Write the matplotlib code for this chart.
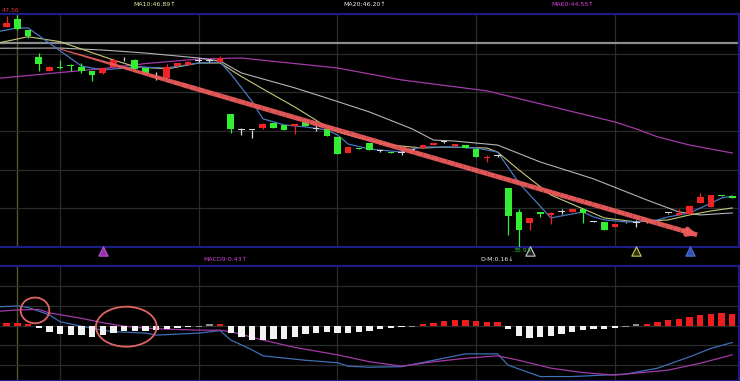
# -*- coding: utf-8 -*-
import numpy as np
import matplotlib
matplotlib.use('Agg')
import matplotlib.pyplot as plt
from matplotlib.patches import Ellipse
from matplotlib.collections import LineCollection

plt.rcParams['font.family'] = ['DejaVu Sans']

# ==================== 1. K线数据================
opens = [46.97, 47.36, 46.81, 45.47, 44.75, 44.95, 45.01, 44.97, 44.76, 44.63,
         44.93, 45.34, 45.30, 44.90, 44.58, 44.38, 45.00, 45.03, 45.27, 45.27,
         45.22, 42.59, 41.79, 41.79, 41.89, 42.14, 42.04, 41.99, 42.19, 41.84,
         41.84, 41.44, 40.63, 40.88, 41.13, 40.73, 40.68, 40.63, 40.78, 40.88,
         41.03, 41.18, 40.98, 41.03, 40.83, 40.36, 40.48, 38.88, 37.69, 37.13,
         37.69, 37.51, 37.69, 37.67, 37.81, 37.18, 37.18, 36.90, 37.15, 37.13,
         37.17, 37.20, 37.61, 37.51, 37.57, 38.11, 37.91, 38.52, 38.47]
highs = [47.51, 47.56, 46.81, 45.67, 45.00, 45.30, 45.10, 45.14, 44.76, 44.92,
         45.39, 45.44, 45.37, 44.90, 44.70, 45.10, 45.16, 45.24, 45.40, 45.36,
         45.50, 42.59, 41.89, 41.79, 42.12, 42.16, 42.04, 42.11, 42.29, 42.04,
         41.86, 41.44, 40.93, 40.88, 41.15, 40.78, 40.68, 40.78, 40.83, 41.05,
         41.15, 41.22, 41.10, 41.05, 40.83, 40.53, 40.53, 38.88, 37.82, 37.37,
         37.69, 37.66, 37.82, 37.83, 37.81, 37.20, 37.18, 37.05, 37.18, 37.27,
         37.20, 37.23, 37.63, 37.82, 38.01, 38.64, 38.54, 38.52, 38.47]
lows = [46.95, 46.81, 46.41, 44.75, 44.75, 44.86, 44.75, 44.63, 44.26, 44.62,
        44.93, 45.24, 44.83, 44.63, 44.30, 44.38, 44.99, 45.03, 45.20, 45.20,
        45.22, 41.64, 41.54, 41.39, 41.86, 41.89, 41.77, 41.59, 41.99, 41.74,
        41.49, 40.58, 40.63, 40.83, 40.78, 40.68, 40.63, 40.53, 40.73, 40.86,
        41.03, 41.13, 40.96, 40.88, 40.43, 40.18, 40.43, 36.52, 35.93, 36.77,
        37.42, 37.07, 37.57, 37.67, 37.10, 37.16, 36.77, 36.90, 37.12, 36.92,
        37.14, 37.17, 37.59, 37.51, 37.55, 38.11, 37.91, 38.47, 38.39]
closes = [47.17, 46.84, 46.51, 45.10, 44.97, 44.92, 44.99, 44.75, 44.53, 44.91,
          45.30, 45.34, 44.83, 44.63, 44.58, 44.93, 45.14, 45.22, 45.27, 45.27,
          45.39, 41.84, 41.79, 41.79, 42.09, 41.89, 41.79, 42.09, 41.99, 41.84,
          41.49, 40.58, 40.93, 40.83, 40.78, 40.73, 40.63, 40.63, 40.78, 41.03,
          41.13, 41.18, 41.08, 40.88, 40.43, 40.41, 40.48, 37.49, 36.77, 37.35,
          37.56, 37.64, 37.69, 37.81, 37.61, 37.18, 36.77, 37.05, 37.15, 37.13,
          37.17, 37.20, 37.61, 37.64, 37.99, 38.41, 38.52, 38.47, 38.39]

# ==================== 2. 均线（按拐点读出）================
ma5_idx = [-1, 1, 2, 7, 9, 12, 15, 18, 20, 21, 22, 23, 24, 26, 28, 30, 31, 32, 34, 37,
           38, 39, 42, 44, 46, 48, 51, 54, 55, 56, 58, 59, 61, 62, 64, 66, 67, 68]
ma5_val = [46.71, 46.91, 46.91, 45.00, 44.80, 44.95, 44.90, 45.15, 45.20, 44.60,
           43.91, 43.22, 42.35, 42.04, 41.94, 41.79, 41.54, 41.08, 40.83, 40.68,
           40.83, 40.93, 40.93, 40.88, 40.68, 39.13, 37.37, 37.67, 37.42, 37.27,
           37.17, 37.17, 37.27, 37.42, 37.62, 38.11, 38.37, 38.47]
ma10_idx = [-1, 2, 5, 10, 12, 15, 18, 20, 22, 24, 27, 30, 31, 33, 36, 39, 41, 45, 46,
            48, 51, 56, 59, 62, 64, 66, 68]
ma10_val = [46.13, 46.47, 46.22, 45.30, 44.97, 44.85, 45.15, 45.15, 44.47, 43.85,
            42.94, 41.94, 41.69, 41.39, 41.03, 40.88, 40.93, 40.88, 40.68, 39.78,
            38.52, 37.37, 37.17, 37.27, 37.52, 37.72, 37.87]
ma20_idx = [-1, 5, 9, 13, 18, 20, 22, 27, 30, 34, 38, 40, 42, 46, 50, 55, 60, 63, 65, 68]
ma20_val = [45.89, 45.90, 45.80, 45.65, 45.40, 45.25, 44.65, 43.90, 43.39, 42.69,
            41.84, 41.28, 41.23, 41.03, 40.18, 39.33, 38.27, 37.67, 37.52, 37.62]
ma60_idx = [-1, 4, 9, 13, 18, 22, 31, 37, 45, 57, 59, 61, 64, 68]
ma60_val = [44.37, 44.62, 44.87, 45.12, 45.35, 45.40, 44.90, 44.30, 43.75, 42.19,
            41.84, 41.44, 41.03, 40.63]

# ==================== 3. MACD ================
macd_hist = [0.05, 0.05, 0.02, -0.05, -0.12, -0.16, -0.18, -0.19, -0.22, -0.18,
             -0.14, -0.10, -0.10, -0.11, -0.09, -0.07, -0.05, -0.03, -0.01, 0.01,
             0.02, -0.14, -0.22, -0.28, -0.28, -0.27, -0.26, -0.22, -0.17, -0.14,
             -0.12, -0.14, -0.14, -0.12, -0.10, -0.07, -0.05, -0.03, -0.01, 0.02,
             0.05, 0.10, 0.12, 0.12, 0.10, 0.08, 0.08, -0.07, -0.20, -0.24,
             -0.22, -0.20, -0.16, -0.12, -0.09, -0.07, -0.07, -0.04, -0.01, 0.01,
             0.04, 0.07, 0.11, 0.14, 0.18, 0.21, 0.24, 0.26, 0.24]
dif_idx = [-1, 1, 2, 4, 5, 7, 9, 10, 13, 14, 18, 20, 21, 23, 24, 28, 31, 32, 34, 37,
           40, 43, 46, 47, 50, 53, 56, 58, 61, 64, 66, 68]
dif_val = [0.38, 0.40, 0.37, 0.22, 0.08, -0.01, -0.09, -0.12, -0.15, -0.19,
           -0.15, -0.10, -0.29, -0.49, -0.61, -0.70, -0.75, -0.82, -0.84, -0.83,
           -0.70, -0.57, -0.57, -0.80, -1.03, -1.03, -1.00, -0.98, -0.86, -0.63,
           -0.46, -0.34]
dea_idx = [-1, 1, 3, 4, 7, 9, 11, 13, 15, 18, 20, 21, 24, 27, 31, 34, 37, 40, 43, 46,
           48, 51, 54, 57, 59, 62, 65, 68]
dea_val = [0.29, 0.32, 0.33, 0.26, 0.15, 0.06, -0.01, -0.05, -0.07, -0.09,
           -0.09, -0.12, -0.29, -0.44, -0.59, -0.73, -0.82, -0.73, -0.66, -0.61,
           -0.70, -0.86, -0.95, -1.00, -0.96, -0.90, -0.76, -0.59]

# 其它标记
signal_idx = [9, 49, 59, 64]
signal_colors = ['#9a30b0', '#202020', '#303010', '#3050b8']
signal_edges = ['#c050d0', '#c8c8c8', '#c8c850', '#5070d0']
price_grid = [45.60, 43.69, 41.74, 39.78, 37.87]
level_line = 46.15
vgrid_idx = [5, 18, 31, 44, 57]
cursor_idx = 1
macd_grid = [-0.8, -0.4, 0.0, 0.4, 0.8]
trend_start = (5.0, 45.85)
trend_end = (64.7, 36.52)

# ==================== 4. 画图 ================
W, H = 740, 381
fig = plt.figure(figsize=(W / 100, H / 100), dpi=100, facecolor='black')
ax1 = fig.add_axes([0, 1 - 247 / H, 739 / W, (247 - 14) / H])
ax2 = fig.add_axes([0, 0, 739 / W, (H - 265.5) / H])

frame_c = '#1c1c86'
grid_c = '#2b2b2b'
for ax in (ax1, ax2):
    ax.set_facecolor('black')
    ax.set_xlim(-0.628, 68.63)
    ax.set_xticks([])
    ax.set_yticks([])
    ax.spines['left'].set_visible(False)
    for s in ('top', 'bottom', 'right'):
        ax.spines[s].set_color(frame_c)
        ax.spines[s].set_linewidth(1.6)
    for g in vgrid_idx:
        ax.axvline(g, color=grid_c, lw=0.9, zorder=0)
    ax.axvline(cursor_idx, color='#55553a', lw=1.0, zorder=0)

ax1.set_ylim(35.91, 47.61)
ax2.set_ylim(-1.12, 1.22)

for g in price_grid:
    ax1.axhline(g, color=grid_c, lw=0.9, zorder=0)
ax1.axhline(level_line, color='#8c8c8c', lw=1.6, zorder=1)
for g in macd_grid:
    ax2.axhline(g, color=grid_c, lw=0.9, zorder=0)

# K线
x = np.arange(len(closes))
o = np.array(opens); c = np.array(closes)
cols = []
for oo, cc in zip(o, c):
    if cc > oo:
        cols.append('#f02424')
    elif cc < oo:
        cols.append('#34ee34')
    else:
        cols.append('#d8d8d8')
ax1.vlines(x, lows, highs, colors=cols, lw=0.9, zorder=3)
body = np.maximum(np.abs(c - o), 0.035)
ax1.bar(x, body, bottom=np.minimum(o, c), width=0.62, color=cols, lw=0, zorder=4)

# 均线
ax1.plot(ma60_idx, ma60_val, color='#a23aa8', lw=0.9, zorder=2)
ax1.plot(ma20_idx, ma20_val, color='#b4b4b4', lw=0.8, zorder=2)
ax1.plot(ma10_idx, ma10_val, color='#c8c878', lw=0.8, zorder=2)
ax1.plot(ma5_idx, ma5_val, color='#4a78c0', lw=0.9, zorder=2)

# 下降趋势箭头（左细右粗）
arrow_c = '#ec5c5c'
t = np.linspace(0, 1, 80)
px = trend_start[0] + (trend_end[0] - trend_start[0]) * t
py = trend_start[1] + (trend_end[1] - trend_start[1]) * t
segs = np.stack([np.column_stack([px[:-1], py[:-1]]), np.column_stack([px[1:], py[1:]])], axis=1)
widths = np.clip(0.8 + t[:-1] * 14.0, 0.8, 3.5)
ax1.add_collection(LineCollection(segs, linewidths=widths, colors=arrow_c,
                                  capstyle='butt', alpha=0.95, zorder=6))
ax1.annotate('', xy=trend_end, xytext=(trend_end[0] - 1.2, trend_end[1] + 0.19),
             arrowprops=dict(arrowstyle='-|>', color=arrow_c, lw=3.5,
                             mutation_scale=10, shrinkA=0, shrinkB=0, alpha=0.95),
             zorder=6)

# 信号三角
for si, fc, ec in zip(signal_idx, signal_colors, signal_edges):
    ax1.scatter([si], [35.69], marker='^', s=45, c=fc, edgecolors=ec,
                linewidths=0.8, clip_on=False, zorder=7)

# MACD 柱 + 线
hist = np.array(macd_hist)
hcols = ['#909090' if abs(v) <= 0.01 else ('#ee1e1e' if v > 0 else '#f2f2f2') for v in hist]
hh = np.where(np.abs(hist) < 0.03, np.sign(hist + 1e-9) * 0.03, hist)
ax2.bar(x, hh, width=0.6, color=hcols, lw=0, zorder=3)
ax2.plot(dif_idx, dif_val, color='#3f6fb4', lw=0.9, zorder=2)
ax2.plot(dea_idx, dea_val, color='#a23aa8', lw=0.9, zorder=2)

ax2.add_patch(Ellipse((2.65, 0.31), 2.69, 0.52, fill=False, ec='#e06464', lw=1.3, zorder=5))
ax2.add_patch(Ellipse((11.21, -0.02), 5.69, 0.81, fill=False, ec='#e06464', lw=1.3, zorder=5))

# 文字
fs = 4.5
def ftext(px, py, s, color):
    fig.text(px / W, 1 - py / H, s, fontsize=fs, color=color, va='center', ha='left')

ftext(2, 11, '47.56', '#e03434')
ftext(514, 250.5, '35.93', '#3cc83c')
ftext(133, 4, 'MA10:46.89↑', '#e6e6a8')
ftext(343, 4, 'MA20:46.20↑', '#e8e8e8')
ftext(551, 4, 'MA60:44.55↑', '#e040e0')
ftext(203, 259.5, 'MACD9:0.43↑', '#d040d8')
ftext(480, 259.5, 'D-M:0.16↓', '#e8e8e8')

plt.savefig('out.png', dpi=100, facecolor='black')
plt.close()
